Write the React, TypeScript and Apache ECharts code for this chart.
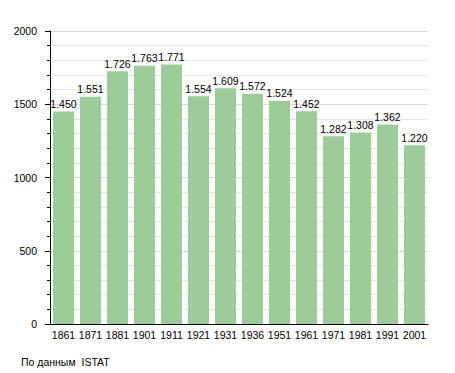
import React, { useEffect, useRef } from "react";
import * as echarts from "echarts";

const categories = ["1861", "1871", "1881", "1901", "1911", "1921", "1931", "1936", "1951", "1961", "1971", "1981", "1991", "2001"];
const population = [1450, 1551, 1726, 1763, 1771, 1554, 1609, 1572, 1524, 1452, 1282, 1308, 1362, 1220];
const yTicks = [0, 500, 1000, 1500, 2000];
const sourceNote = "По данным  ISTAT";

const fmt = (v: number) => {
  const s = String(v);
  return s.length > 3 ? s.slice(0, s.length - 3) + "." + s.slice(-3) : s;
};

export default function App() {
  const ref = useRef<HTMLDivElement>(null);
  useEffect(() => {
    if (!ref.current) return;
    const chart = echarts.init(ref.current, undefined, { renderer: "svg" });
    const font = "'Liberation Sans', Arial, sans-serif";
    const fs = 10.5;
    chart.setOption({
      animation: false,
      textStyle: { fontFamily: font },
      grid: { left: 50, right: 27, top: 31, bottom: 49 },
      xAxis: {
        type: "category",
        data: categories,
        axisLine: { show: true, lineStyle: { color: "#000", width: 1 } },
        axisTick: { show: false },
        axisLabel: { color: "#000", fontSize: fs, margin: 5, interval: 0, fontFamily: font },
      },
      yAxis: {
        type: "value",
        min: yTicks[0],
        max: yTicks[yTicks.length - 1],
        interval: 500,
        axisLine: { show: true, lineStyle: { color: "#000", width: 1 } },
        axisTick: { show: true, length: 5, lineStyle: { color: "#000" } },
        minorTick: { show: true, splitNumber: 5, length: 3, lineStyle: { color: "#000" } },
        splitLine: { show: true, lineStyle: { color: "#d8d8d8", width: 1 } },
        minorSplitLine: { show: true, lineStyle: { color: "#e6e6e6", width: 1 } },
        axisLabel: { color: "#000", fontSize: fs, margin: 13, fontFamily: font, formatter: (v: number) => String(v) },
      },
      series: [
        {
          type: "bar",
          data: population,
          barCategoryGap: "22%",
          itemStyle: { color: "#9ccc98" },
          label: {
            show: true,
            position: "top",
            distance: 2,
            color: "#000",
            fontSize: fs,
            fontFamily: font,
            formatter: (p: any) => fmt(p.value),
          },
        },
      ],
      graphic: [
        {
          type: "text",
          left: 21,
          top: 356,
          style: { text: sourceNote, fill: "#000", fontSize: fs, fontFamily: font },
        },
      ],
    });
    return () => chart.dispose();
  }, []);
  return <div ref={ref} style={{ width: 455, height: 373, position: "absolute", left: 0, top: 0 }} />;
}
